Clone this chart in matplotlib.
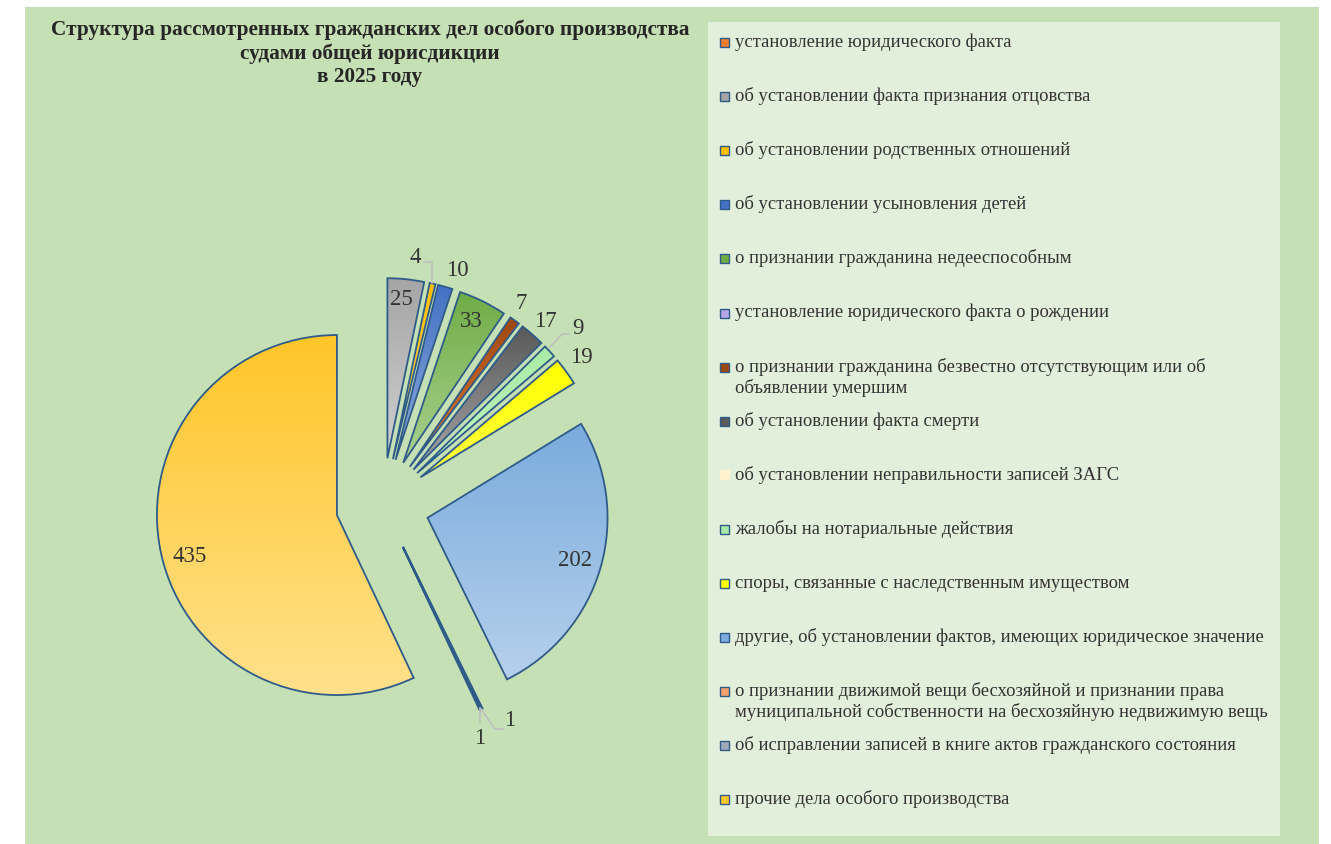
import numpy as np
import matplotlib
matplotlib.use("Agg")
import matplotlib.pyplot as plt
from matplotlib.patches import Rectangle
from matplotlib.colors import to_rgb

plt.rcParams['font.family'] = ['Liberation Serif', 'DejaVu Serif']

# ---------------- data ----------------
title_lines = [
    "Структура рассмотренных гражданских дел особого производства",
    "судами общей юрисдикции",
    "в 2025 году",
]

categories = [
    "установление юридического факта",
    "об установлении факта признания отцовства",
    "об установлении родственных отношений",
    "об установлении усыновления детей",
    "о признании гражданина недееспособным",
    "установление юридического факта о рождении",
    "о признании гражданина безвестно отсутствующим или об\nобъявлении умершим",
    "об установлении факта смерти",
    "об установлении неправильности записей ЗАГС",
    "жалобы на нотариальные действия",
    "споры, связанные с наследственным имуществом",
    "другие, об установлении фактов, имеющих юридическое значение",
    "о признании движимой вещи бесхозяйной и признании права\nмуниципальной собственности на бесхозяйную недвижимую вещь",
    "об исправлении записей в книге актов гражданского состояния",
    "прочие дела особого производства",
]

values = [0, 25, 4, 10, 33, 0, 7, 17, 0, 9, 19, 202, 1, 1, 435]

top_colors = ["#ED7D31", "#A5A5A5", "#FFC000", "#4472C4", "#70AD47",
              "#B4A7E5", "#9E480E", "#595959", "#FFF2CC", "#A9EBA5",
              "#FFFF00", "#7AABDC", "#F4A06C", "#9DA9B8", "#FFC629"]
bottom_colors = ["#F4B183", "#D0D0D0", "#FFD966", "#8FAADC", "#A9D18E",
                 "#D9D2F5", "#E07B39", "#A6A6A6", "#FFF2CC", "#C2F5C0",
                 "#FFFF40", "#B5D0EC", "#F8CBAD", "#D0D5DC", "#FFE18C"]

# ---------------- layout ----------------
W, H = 1331, 844
EDGE = "#2F5B89"
TXT = "#333333"

fig = plt.figure(figsize=(W / 100, H / 100), dpi=100)
fig.patch.set_facecolor("white")

# outer green area and legend panel
fig.add_artist(Rectangle((25 / W, 0), (1319 - 25) / W, (844 - 7) / H,
                         transform=fig.transFigure, facecolor="#C5E0B4",
                         edgecolor="none", zorder=0))
fig.add_artist(Rectangle((708 / W, (844 - 836) / H), (1280 - 708) / W, (836 - 22) / H,
                         transform=fig.transFigure, facecolor="#E2EFDA",
                         edgecolor="none", zorder=0))

# pie axes: radius 1 == R pixels
cx, cy, R = 382.6, 504.8, 180.0
ax = fig.add_axes([(cx - 2 * R) / W, (H - (cy + 1.8 * R)) / H, 4 * R / W, 3.6 * R / H])
ax.set_facecolor("none")

explode = [0.26] * len(values)
wedges, _ = ax.pie(values, explode=explode, startangle=90, counterclock=False,
                   radius=1.0,
                   wedgeprops=dict(edgecolor=EDGE, linewidth=1.3, facecolor="none"))
ax.set_autoscale_on(False)

for w, v, c0, c1 in zip(wedges, values, top_colors, bottom_colors):
    if v == 0:
        w.set_visible(False)
        continue
    w.set_zorder(3)
    ext = w.get_path().get_extents()
    a, b = np.array(to_rgb(c0)), np.array(to_rgb(c1))
    t = np.linspace(0, 1, 128)[:, None, None]
    grad = a[None, None, :] * (1 - t) + b[None, None, :] * t
    im = ax.imshow(grad, extent=(ext.x0, ext.x1, ext.y0, ext.y1), origin="upper",
                   aspect="auto", interpolation="bilinear", zorder=2)
    im.set_clip_path(w)

ax.set_xlim(-2, 2)
ax.set_ylim(-1.8, 1.8)
ax.set_aspect("equal")
ax.axis("off")

# data labels (positions in pie-radius units relative to pie centre)
label_pos = {1: (0.104, 1.138), 2: (0.18, 1.376), 3: (0.413, 1.304), 4: (0.491, 1.016),
             6: (0.770, 1.116), 7: (0.903, 1.021), 9: (1.086, 0.982), 10: (1.102, 0.816),
             11: (1.070, -0.312), 12: (0.541, -1.296), 13: (0.708, -1.201), 14: (-1.070, -0.290)}
for i, (x, y) in label_pos.items():
    ax.text(x, y, str(values[i]), ha="center", va="center", fontsize=16.5,
            color=TXT, zorder=5, clip_on=False)


def px(p):
    return ((p[0] - cx) / R, (cy - p[1]) / R)


leaders = [
    [(424, 262.5), (432, 262.5), (432, 283)],
    [(550, 347), (562, 334), (569, 334)],
    [(480, 708), (480, 722)],
    [(481, 709), (495, 729), (503, 729)],
]
for pts in leaders:
    xy = np.array([px(p) for p in pts])
    ax.plot(xy[:, 0], xy[:, 1], color="#BFBFBF", lw=1.2, zorder=4, clip_on=False)

# title
for k, line in enumerate(title_lines):
    fig.text(370 / W, 1 - (30 + 23.5 * k) / H, line, ha="center", va="center",
             fontsize=15.3, fontweight="bold", color="#262626")

# legend
slot0, slot = 42, 54.1
for i, (lab, c0, c1) in enumerate(zip(categories, top_colors, bottom_colors)):
    yc = slot0 + slot * i
    if i == 8:
        fig.add_artist(Rectangle((720 / W, 1 - (yc + 5) / H), 10 / W, 10 / H,
                                 transform=fig.transFigure, facecolor=c0,
                                 edgecolor="none", zorder=3))
    else:
        fig.add_artist(Rectangle((720 / W, 1 - (yc + 5) / H), 9 / W, 9 / H,
                                 transform=fig.transFigure, facecolor=c0,
                                 edgecolor=EDGE, linewidth=1.0, zorder=3))
    for j, part in enumerate(lab.split("\n")):
        fig.text(735 / W, 1 - (yc + 21 * j) / H, part, ha="left", va="center",
                 fontsize=13.4, color=TXT)

fig.savefig("out.png", dpi=100, facecolor=fig.get_facecolor())
